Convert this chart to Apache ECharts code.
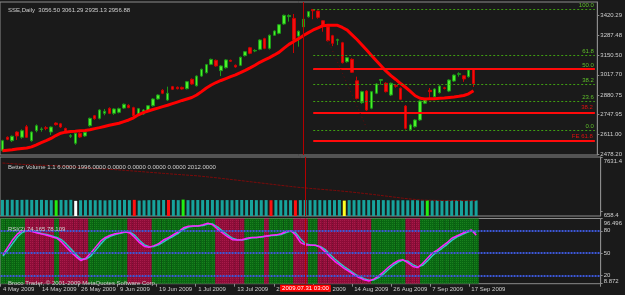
<!DOCTYPE html>
<html>
<head>
<meta charset="utf-8">
<script src="https://cdn.jsdelivr.net/npm/echarts@6/dist/echarts.min.js"></script>
<style>
html, body { margin: 0; padding: 0; background: #1a1a1a; }
#main_chart { width: 625px; height: 295px; }
</style>
</head>
<body>
<div id="main_chart"></div>
<script>
// trading days shown (May 4 - Sep 18 2009)
var mayDays = [4, 5, 6, 7, 8, 11, 12, 13, 14, 15, 18, 19, 20, 21, 22, 25, 26, 27];
var junDays = [1, 2, 3, 4, 5, 8, 9, 10, 11, 12, 15, 16, 17, 18, 19, 22, 23, 24, 25, 26, 29, 30];
var julDays = [1, 2, 3, 6, 7, 8, 9, 10, 13, 14, 15, 16, 17, 20, 21, 22, 23, 24, 27, 28, 29, 30, 31];
var augDays = [3, 4, 5, 6, 7, 10, 11, 12, 13, 14, 17, 18, 19, 20, 21, 24, 25, 26, 27, 28, 31];
var sepDays = [1, 2, 3, 4, 7, 8, 9, 10, 11, 14, 15, 16, 17, 18];

var opens = [2501, 2592, 2569, 2628, 2592, 2664, 2569, 2637, 2645, 2657, 2628, 2689, 2684, 2652, 2599, 2551, 2619, 2601, 2671, 2739,
	2721, 2755, 2789, 2755, 2762, 2791, 2810, 2794, 2744, 2751, 2769, 2807, 2853, 2912, 2846, 2937, 2933, 2932, 2923, 2987,
	2943, 3009, 3032, 3089, 3116, 3046, 3066, 3116, 3082, 3082, 3148, 3202, 3180, 3191, 3264, 3198, 3287, 3300, 3364, 3414,
	3402, 3282, 3345, 3413, 3462, 3452, 3386, 3345, 3284, 3253, 3236, 3107, 3123, 2977, 2828, 2907, 2790, 2892, 2980, 2960,
	2880, 2944, 2926, 2805, 2643, 2664, 2710, 2824, 2912, 2868, 2896, 2929, 2907, 2975, 3021, 3011, 3005, 3056.50];
var highs = [2575, 2598, 2604, 2633, 2646, 2676, 2633, 2680, 2660, 2668, 2666, 2694, 2690, 2658, 2613, 2623, 2626, 2632, 2726, 2744,
	2783, 2785, 2796, 2790, 2794, 2822, 2817, 2800, 2792, 2784, 2812, 2858, 2885, 2920, 2937, 2942, 2938, 2937, 2976, 2993,
	3014, 3060, 3092, 3128, 3122, 3083, 3124, 3121, 3088, 3142, 3180, 3208, 3192, 3260, 3270, 3292, 3321, 3364, 3428, 3430,
	3432, 3320, 3401, 3452, 3464, 3455, 3390, 3350, 3290, 3264, 3242, 3140, 3130, 3005, 2909, 2912, 2908, 2960, 2989, 2966,
	2965, 2953, 2932, 2812, 2684, 2715, 2843, 2850, 2928, 2926, 2946, 2936, 2987, 3021, 3035, 3016, 3055, 3061.29];
var lows = [2495, 2572, 2560, 2574, 2582, 2588, 2562, 2626, 2630, 2640, 2608, 2672, 2655, 2630, 2588, 2541, 2588, 2595, 2664, 2712,
	2714, 2742, 2750, 2745, 2755, 2785, 2790, 2732, 2738, 2745, 2763, 2801, 2848, 2886, 2840, 2914, 2918, 2916, 2918, 2950,
	2938, 3003, 3026, 3084, 3073, 3009, 3060, 3105, 3066, 3077, 3142, 3158, 3172, 3185, 3192, 3190, 3282, 3294, 3358, 3380,
	3166, 3209, 3338, 3407, 3396, 3400, 3311, 3245, 3213, 3220, 3095, 3100, 3030, 2850, 2820, 2772, 2783, 2886, 2951, 2897,
	2873, 2930, 2845, 2645, 2640, 2658, 2704, 2818, 2860, 2862, 2890, 2918, 2900, 2969, 3005, 2970, 2998, 2935.13];
var closes = [2569, 2578, 2599, 2601, 2637, 2592, 2628, 2671, 2649, 2653, 2662, 2678, 2662, 2635, 2603, 2619, 2594, 2626, 2721, 2719,
	2778, 2769, 2755, 2785, 2787, 2817, 2794, 2739, 2787, 2778, 2807, 2853, 2880, 2892, 2892, 2919, 2923, 2921, 2971, 2955,
	3009, 3055, 3087, 3123, 3078, 3078, 3119, 3110, 3071, 3137, 3175, 3164, 3184, 3255, 3198, 3287, 3316, 3359, 3423, 3421,
	3255, 3314, 3396, 3448, 3454, 3409, 3352, 3250, 3232, 3257, 3100, 3134, 3035, 2857, 2903, 2778, 2903, 2955, 2985, 2903,
	2960, 2940, 2851, 2653, 2676, 2710, 2839, 2846, 2903, 2921, 2941, 2925, 2982, 3016, 3025, 2989, 3050, 2956.88];
var maValues = [2501, 2504, 2507, 2512, 2516, 2519, 2527, 2541, 2556, 2569, 2584, 2604, 2620, 2627, 2631, 2633, 2636, 2639, 2643, 2651,
	2658, 2666, 2674, 2681, 2688, 2699, 2710, 2725, 2745, 2760, 2771, 2781, 2791, 2801, 2810, 2821, 2832, 2843, 2853, 2863,
	2880, 2903, 2928, 2948, 2965, 2979, 2992, 3005, 3017, 3032, 3048, 3065, 3083, 3103, 3119, 3135, 3153, 3172, 3199, 3225,
	3245, 3264, 3285, 3305, 3323, 3338, 3352, 3355, 3355, 3355, 3340, 3322, 3290, 3258, 3223, 3187, 3150, 3113, 3078, 3042,
	3012, 2986, 2958, 2933, 2905, 2875, 2858, 2853, 2854, 2855, 2858, 2860, 2863, 2866, 2871, 2877, 2888, 2909];

var fibPrices = [3464, 3150, 3053, 2956, 2836, 2642];
var fibNames = ['100.0', '61.8', '50.0', '38.2', '23.6', '0.0'];
var fePrices = [3060, 2759, 2567];
var feNames = ['', '38.2', 'FE 61.8'];
// faint dotted channel line after the top: [bar, price] pairs
var dotLine = [[67, 3255], [75, 2655]];
var priceTicks = [3420.29, 3287.48, 3150.50, 3017.70, 2880.75, 2747.95, 2611.00, 2478.20];
var lastPrice = 2956.88;

var volumes = [2080, 2090, 2100, 2070, 2090, 2100, 2080, 2070, 2090, 2060, 2050, 2040, 2080, 2060, 2090, 1960, 2040, 2050, 2060, 2040,
	2050, 2020, 2050, 2070, 2060, 2080, 2050, 2090, 2000, 2030, 2050, 2060, 2050, 2070, 2070, 2080, 2050, 2120, 2050, 2060,
	2070, 2060, 2070, 2070, 2060, 2050, 2060, 2050, 2070, 2070, 2060, 2070, 2050, 2050, 2060, 2040, 2060, 2050, 2050, 2040,
	2030, 2050, 2060, 2050, 2060, 2060, 2040, 2060, 2050, 2070, 1990, 2050, 2050, 2060, 2060, 2060, 2040, 2070, 2050, 2040,
	2040, 2030, 2040, 2030, 2040, 2050, 2030, 2040, 2030, 2040, 2030, 2040, 2030, 2040, 2030, 2040, 2030, 2012];
var volAvg = [6855, 6810, 6765, 6720, 6680, 6640, 6615, 6590, 6565, 6545, 6520, 6490, 6460, 6420, 6375, 6330, 6290, 6245, 6205, 6160,
	6120, 6080, 6035, 5995, 5950, 5905, 5855, 5810, 5760, 5710, 5660, 5610, 5560, 5510, 5465, 5415, 5370, 5325, 5280, 5235,
	5190, 5125, 5060, 4995, 4930, 4855, 4785, 4710, 4640, 4565, 4490, 4415, 4340, 4265, 4190, 4115, 4040, 3965, 3895, 3820,
	3750, 3690, 3635, 3575, 3520, 3465, 3415, 3360, 3310, 3250, 3190, 3130, 3060, 2990, 2920, 2850, 2780, 2700, 2620, 2540,
	2460, 2380, 2300, 2230, 2170, 2110, 2060, 2045, 2030, 2020, 2010, 2005, 2002, 2000, 1998, 1997, 1996, 1996];
// special Better Volume bars: [bar index, kind]
var volMarks = [[11, 'churn'], [15, 'low'], [27, 'climax'], [34, 'climax'], [37, 'churn'], [55, 'climax'], [60, 'climax'], [70, 'climaxChurn'], [87, 'churn']];
var volTicks = [7631.4, 658.4];

var rsiMain = [48, 58, 68, 76, 80, 80, 79, 77, 75.5, 74, 72, 70, 65, 58, 51, 45, 40, 43, 50, 58,
	66, 71, 74, 76, 77, 78.5, 77, 71, 64, 59, 58, 60, 63, 68, 71, 75, 79, 84, 86, 86.5,
	86.5, 88, 90, 88, 82, 77, 72, 68, 67.5, 68, 70, 71, 71, 72, 73, 74, 74.5, 76, 79, 80,
	74, 64, 61, 61, 60.5, 58, 52, 45, 39, 34, 29, 25, 20.6, 17, 14, 12.5, 15, 19, 25, 31,
	36, 40, 41, 37, 32, 30.5, 36, 43, 50, 54, 59, 64, 70, 73, 76, 79, 81, 74.165];
var rsiSignal = [46, 54, 63, 72, 78, 80, 79.5, 78, 76, 75, 73, 71, 68, 62, 55, 48, 42, 42, 46, 54,
	62, 69, 72.5, 75, 76.5, 78, 78, 74, 67, 61, 58.5, 59, 61.5, 65.5, 69.5, 73, 77, 82, 85, 86,
	86.5, 87, 89, 89, 85, 79.5, 74.5, 70, 68, 67.5, 69, 70.5, 71, 71.5, 72.5, 73.5, 74, 75, 77.5, 79.5,
	77, 69, 62.5, 61, 60.5, 59, 55, 48.5, 42, 36.5, 31.5, 27, 22.5, 18.5, 15.5, 13.5, 14, 17, 22, 28,
	33.5, 38, 40.5, 39, 34.5, 31.5, 33.5, 39.5, 46.5, 52, 56.5, 61.5, 67, 71.5, 74.5, 77.5, 80, 78.109];
// background zones of the RSI window: [first bar, last bar, 1 = up / 0 = down]
var rsiZones = [[0, 4, 1], [5, 10, 0], [11, 11, 1], [12, 17, 0], [18, 25, 1], [26, 30, 0], [31, 43, 1], [44, 49, 0],
	[50, 53, 1], [54, 54, 0], [55, 59, 1], [60, 62, 0], [63, 64, 1], [65, 75, 0], [76, 82, 1], [83, 85, 0], [86, 97, 1]];
var rsiLevels = [80, 50, 20];
var rsiTicks = [96.496, 80, 50, 20, 8.872];

var crossBar = 62;
var crossText = '2009.07.31 03:00';

var monthShort = ['Jan', 'Feb', 'Mar', 'Apr', 'May', 'Jun', 'Jul', 'Aug', 'Sep', 'Oct', 'Nov', 'Dec'];

function buildDates() {
	var out = [];
	var months = [[5, mayDays], [6, junDays], [7, julDays], [8, augDays], [9, sepDays]];
	for (var m = 0; m < months.length; m++) {
		for (var d = 0; d < months[m][1].length; d++) {
			out.push(months[m][1][d] + ' ' + monthShort[months[m][0] - 1] + ' 2009');
		}
	}
	return out;
}

makeChart();

function makeChart() {
	var chart_do = document.getElementById('main_chart');
	var chart = echarts.init(chart_do, null, { renderer: 'canvas' });

	var font = 'Liberation Sans';
	var txtColor = '#cfcfcf';
	var gridLine = '#8c8c8c';

	var dates = buildDates();
	var nBars = dates.length;
	var cats = dates.slice();
	for (var e = 0; e < 25; e++) cats.push('');

	var candleData = [];
	for (var i = 0; i < nBars; i++) {
		candleData.push([opens[i], closes[i], lows[i], highs[i]]);
	}

	var volColors = {
		normal: '#17a39c',
		churn: '#22ee11',
		low: '#ffffff',
		climax: '#ff1010',
		climaxChurn: '#ffff22'
	};
	var volData = [];
	for (var v = 0; v < volumes.length; v++) {
		volData.push({ value: volumes[v], itemStyle: { color: volColors.normal } });
	}
	for (var k = 0; k < volMarks.length; k++) {
		volData[volMarks[k][0]].itemStyle.color = volColors[volMarks[k][1]];
	}

	var upDecal = { symbol: 'rect', symbolSize: 1, color: 'rgba(40,150,40,0.55)', dashArrayX: [1, 1], dashArrayY: [1, 1], rotation: 0 };
	var dnDecal = { symbol: 'rect', symbolSize: 1, color: 'rgba(190,40,90,0.55)', dashArrayX: [1, 1], dashArrayY: [1, 1], rotation: 0 };
	var zoneData = [];
	for (var z = 0; z < rsiZones.length; z++) {
		for (var b = rsiZones[z][0]; b <= rsiZones[z][1]; b++) {
			var up = rsiZones[z][2] == 1;
			zoneData[b] = {
				value: rsiTicks[0],
				itemStyle: { color: up ? '#096812' : '#8e0c38', decal: up ? upDecal : dnDecal }
			};
		}
	}

	// fibonacci lines start at the swing-high bar
	var fibStart = 64;
	var fibEnd = cats.length - 1;
	var markData = [];
	for (var f = 0; f < fibPrices.length; f++) {
		markData.push([{
			coord: [fibStart, fibPrices[f]],
			lineStyle: { color: '#3f9d12', type: [2, 2], width: 1 },
			label: { show: true, position: 'insideEndTop', formatter: fibNames[f], color: '#5fbf2a', fontSize: 6, fontFamily: font, distance: 1 }
		}, { coord: [fibEnd, fibPrices[f]] }]);
	}
	for (var r = 0; r < fePrices.length; r++) {
		markData.push([{
			coord: [fibStart, fePrices[r]],
			lineStyle: { color: '#ff0a0a', type: 'solid', width: 2 },
			label: { show: feNames[r] != '', position: 'insideEndTop', formatter: feNames[r], color: '#e01010', fontSize: 6, fontFamily: font, distance: 2 }
		}, { coord: [fibEnd, fePrices[r]] }]);
	}
	markData.push([{
		coord: dotLine[0],
		lineStyle: { color: '#6a0808', type: [1, 3], width: 1 },
		label: { show: false }
	}, { coord: dotLine[1] }]);
	markData.push({
		yAxis: lastPrice,
		lineStyle: { width: 0, opacity: 0 },
		label: { show: true, position: 'end', formatter: lastPrice.toFixed(2), backgroundColor: '#ffffff', color: '#000', fontSize: 6, fontFamily: font, padding: [1, 2, 0, 2], distance: 2 }
	});
	markData.push({
		xAxis: crossBar,
		lineStyle: { color: '#b40000', type: 'solid', width: 1 },
		label: { show: false }
	});

	var rsiMarks = [];
	for (var l = 0; l < rsiLevels.length; l++) {
		rsiMarks.push({ yAxis: rsiLevels[l], lineStyle: { color: '#3c57d6', type: [2, 1], width: 2 }, label: { show: false } });
	}
	rsiMarks.push({
		xAxis: crossBar,
		lineStyle: { color: '#b40000', type: 'solid', width: 1 },
		label: { show: true, position: 'start', formatter: crossText, backgroundColor: '#ff0000', color: '#ffffff', fontSize: 6, fontFamily: font, padding: [1, 2, 0, 2], distance: 1 }
	});

	function xAxisFor(idx, showLabels) {
		return {
			type: 'category',
			gridIndex: idx,
			data: cats,
			boundaryGap: true,
			axisLine: { show: false },
			axisTick: {
				show: showLabels,
				interval: function(n) { return n % 8 === 0 && n < nBars; },
				length: 3,
				lineStyle: { color: gridLine }
			},
			axisLabel: {
				show: showLabels,
				interval: function(n) { return n % 8 === 0 && n < nBars; },
				color: txtColor,
				fontSize: 6,
				fontFamily: font,
				align: 'left',
				margin: 3
			},
			splitLine: { show: false }
		};
	}

	// first / last label of a sub window sit inside the window edges
	var edgeRich = {
		dn: { padding: [9, 0, 0, 0], fontSize: 6, fontFamily: font, color: txtColor },
		up: { padding: [0, 0, 4, 0], fontSize: 6, fontFamily: font, color: txtColor }
	};

	function yAxisFor(idx, min, max, ticks, fmt) {
		return {
			type: 'value',
			gridIndex: idx,
			position: 'right',
			min: min,
			max: max,
			axisLine: { show: true, lineStyle: { color: gridLine } },
			axisTick: { show: true, customValues: ticks, length: 2, lineStyle: { color: gridLine } },
			axisLabel: {
				customValues: ticks,
				formatter: fmt,
				color: txtColor,
				fontSize: 6,
				fontFamily: font,
				margin: 3,
				hideOverlap: false,
				showMinLabel: true,
				showMaxLabel: true,
				rich: edgeRich
			},
			splitLine: { show: false }
		};
	}

	var titleStyle = { color: txtColor, fontSize: 6, fontFamily: font, fontWeight: 'normal' };

	var option = {
		backgroundColor: '#1a1a1a',
		animation: false,
		title: [
			{ text: 'SSE,Daily  3056.50 3061.29 2935.13 2956.88', left: 3, top: 2, textStyle: titleStyle },
			{ text: 'Better Volume 1.1 6.0000 1996.0000 0.0000 0.0000 0.0000 0.0000 2012.0000', left: 3, top: 159, textStyle: titleStyle },
			{ text: 'RSI(2) 74.165 78.109', left: 3, top: 221, textStyle: titleStyle },
			{ text: 'Broco Trader, © 2001-2009 MetaQuotes Software Corp.', left: 3, top: 275, textStyle: titleStyle }
		],
		grid: [
			{ left: 0, top: 2, width: 603, height: 153, show: true, borderColor: gridLine, borderWidth: 1 },
			{ left: 0, top: 157, width: 603, height: 59, show: true, borderColor: gridLine, borderWidth: 1 },
			{ left: 0, top: 218.5, width: 603, height: 65.2, show: true, borderColor: gridLine, borderWidth: 1 }
		],
		xAxis: [xAxisFor(0, false), xAxisFor(1, false), xAxisFor(2, true)],
		yAxis: [
			yAxisFor(0, 2471.4, 3513.6, priceTicks, function(val) { return val.toFixed(2); }),
			yAxisFor(1, 0, volTicks[0], volTicks, function(val) { return '{dn|' + val.toFixed(1) + '}'; }),
			yAxisFor(2, rsiTicks[4], rsiTicks[0], rsiTicks, function(val) {
				if (val == rsiTicks[0]) return '{dn|' + val + '}';
				if (val == rsiTicks[4]) return '{up|' + val + '}';
				return String(val);
			})
		],
		series: [{
			name: 'SSE',
			type: 'candlestick',
			xAxisIndex: 0,
			yAxisIndex: 0,
			barWidth: 3,
			data: candleData,
			itemStyle: {
				color: '#4cf02a',
				color0: '#ee1111',
				borderColor: '#1c9a18',
				borderColor0: '#d00000',
				borderWidth: 1
			},
			markLine: {
				silent: true,
				symbol: ['none', 'none'],
				animation: false,
				data: markData
			}
		}, {
			name: 'MA',
			type: 'line',
			xAxisIndex: 0,
			yAxisIndex: 0,
			data: maValues,
			symbol: 'none',
			lineStyle: { color: '#ff0000', width: 3 },
			z: 3
		}, {
			name: 'Volume',
			type: 'bar',
			xAxisIndex: 1,
			yAxisIndex: 1,
			barWidth: 3,
			data: volData,
			markLine: {
				silent: true,
				symbol: ['none', 'none'],
				data: [{ xAxis: crossBar, lineStyle: { color: '#b40000', type: 'solid', width: 1 }, label: { show: false } }]
			}
		}, {
			name: 'VolAvg',
			type: 'line',
			xAxisIndex: 1,
			yAxisIndex: 1,
			data: volAvg,
			symbol: 'none',
			lineStyle: { color: '#7c0a0a', width: 1, type: [3, 1] }
		}, {
			name: 'Zones',
			type: 'bar',
			xAxisIndex: 2,
			yAxisIndex: 2,
			barWidth: '100%',
			silent: true,
			data: zoneData,
			z: 1
		}, {
			name: 'RSI',
			type: 'line',
			xAxisIndex: 2,
			yAxisIndex: 2,
			data: rsiSignal,
			symbol: 'none',
			lineStyle: { color: '#2ec4c4', width: 1.5 },
			z: 3
		}, {
			name: 'RSI2',
			type: 'line',
			xAxisIndex: 2,
			yAxisIndex: 2,
			data: rsiMain,
			symbol: 'none',
			lineStyle: { color: '#ff22ff', width: 1.5 },
			z: 4,
			markLine: {
				silent: true,
				symbol: ['none', 'none'],
				data: rsiMarks
			}
		}]
	};

	chart.setOption(option);
}
</script>
</body>
</html>
